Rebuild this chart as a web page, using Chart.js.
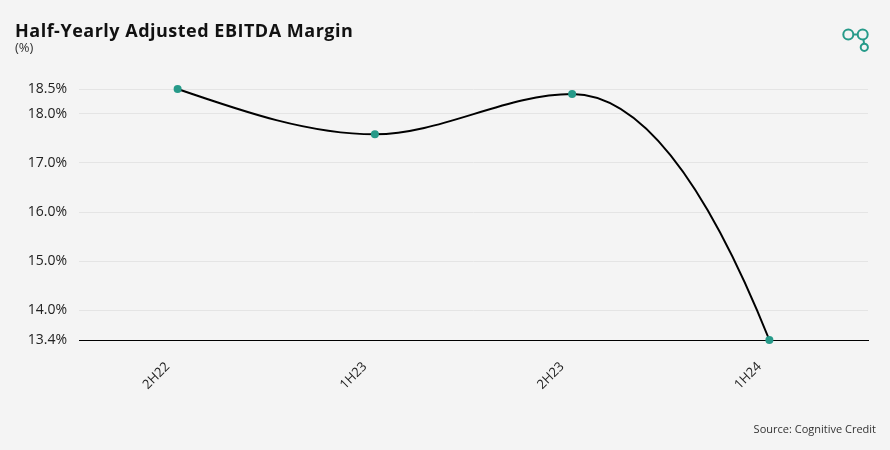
<!DOCTYPE html>
<html>
<head>
<meta charset="utf-8">
<script src="https://cdn.jsdelivr.net/npm/chart.js@4"></script>
<style>
  html, body { margin: 0; padding: 0; background: #f4f4f4; }
  #wrap { width: 890px; height: 450px; position: relative; }
</style>
</head>
<body>
<div id="wrap"><canvas id="marginChart" width="890" height="450"></canvas></div>
<script>
// data
const periods = ["2H22", "1H23", "2H23", "1H24"];
const marginPct = [18.5, 17.58, 18.4, 13.4];
const yTicks = [13.4, 14.0, 15.0, 16.0, 17.0, 18.0, 18.5];

const teal = "#269a89";

// steeper end tangents on the monotone curve
const endTangents = {
  id: "endTangents",
  beforeDatasetDraw(chart, args) {
    const line = args.meta.dataset;
    const pts = args.meta.data;
    if (!line || pts.length < 2) return;
    line.updateControlPoints(chart.chartArea, "x");
    const first = pts[0];
    const last = pts[pts.length - 1];
    first.cp2y = first.y + 1.5 * (first.cp2y - first.y);
    last.cp1y = last.y + 2 * (last.cp1y - last.y);
    line._path = undefined; // drop cached path so the new control points are used
  }
};

// title, subtitle, logo, source
const decorations = {
  id: "decorations",
  afterDraw(chart) {
    const ctx = chart.ctx;
    ctx.save();
    ctx.fillStyle = "#111";
    ctx.textBaseline = "alphabetic";
    ctx.textAlign = "left";
    ctx.font = "bold 18px 'Open Sans'";
    ctx.letterSpacing = "0.5px";
    ctx.fillText("Half-Yearly Adjusted EBITDA Margin", 15, 37);
    ctx.letterSpacing = "0px";
    ctx.font = "13px 'Open Sans'";
    ctx.fillStyle = "#333";
    ctx.fillText("(%)", 15, 52);

    ctx.textAlign = "right";
    ctx.font = "11px 'Open Sans'";
    ctx.fillStyle = "#333";
    ctx.fillText("Source: Cognitive Credit", 876, 433);

    // logo
    ctx.strokeStyle = teal;
    ctx.lineWidth = 2;
    ctx.beginPath(); ctx.arc(848.3, 34.5, 5, 0, Math.PI * 2); ctx.stroke();
    ctx.beginPath(); ctx.arc(862.7, 34.5, 5, 0, Math.PI * 2); ctx.stroke();
    ctx.beginPath(); ctx.arc(864.3, 47.3, 3.6, 0, Math.PI * 2); ctx.stroke();
    ctx.beginPath(); ctx.moveTo(853.3, 34.5); ctx.lineTo(857.7, 34.5); ctx.stroke();
    ctx.beginPath(); ctx.moveTo(863.5, 39.5); ctx.lineTo(864, 43.7); ctx.stroke();
    ctx.restore();
  }
};

new Chart(document.getElementById("marginChart"), {
  type: "line",
  data: {
    labels: periods,
    datasets: [{
      data: marginPct,
      borderColor: "#000",
      borderWidth: 2,
      cubicInterpolationMode: "monotone",
      pointRadius: 4,
      pointBackgroundColor: teal,
      pointBorderWidth: 0,
      clip: false
    }]
  },
  options: {
    responsive: false,
    animation: false,
    devicePixelRatio: 1,
    layout: { padding: { top: 89, right: 22, left: 0, bottom: 0 } },
    plugins: { legend: { display: false }, tooltip: { enabled: false } },
    scales: {
      x: {
        offset: true,
        grid: { display: false, drawTicks: false },
        border: { color: "#000", width: 1 },
        ticks: {
          color: "#222",
          font: { family: "'Open Sans'", size: 13 },
          minRotation: 45,
          maxRotation: 45,
          labelOffset: -10,
          padding: 19
        },
        afterFit(scale) { scale.height = 110; }
      },
      y: {
        min: 13.4,
        max: 18.5,
        grid: { color: "#e4e4e4", drawTicks: false },
        border: { display: false },
        afterBuildTicks(scale) { scale.ticks = yTicks.map(v => ({ value: v })); },
        afterFit(scale) { scale.width = 79; },
        ticks: {
          color: "#222",
          padding: 12,
          font: { family: "'Open Sans'", size: 14 },
          callback: v => v.toFixed(1) + "%"
        }
      }
    }
  },
  plugins: [endTangents, decorations]
});
</script>
</body>
</html>
